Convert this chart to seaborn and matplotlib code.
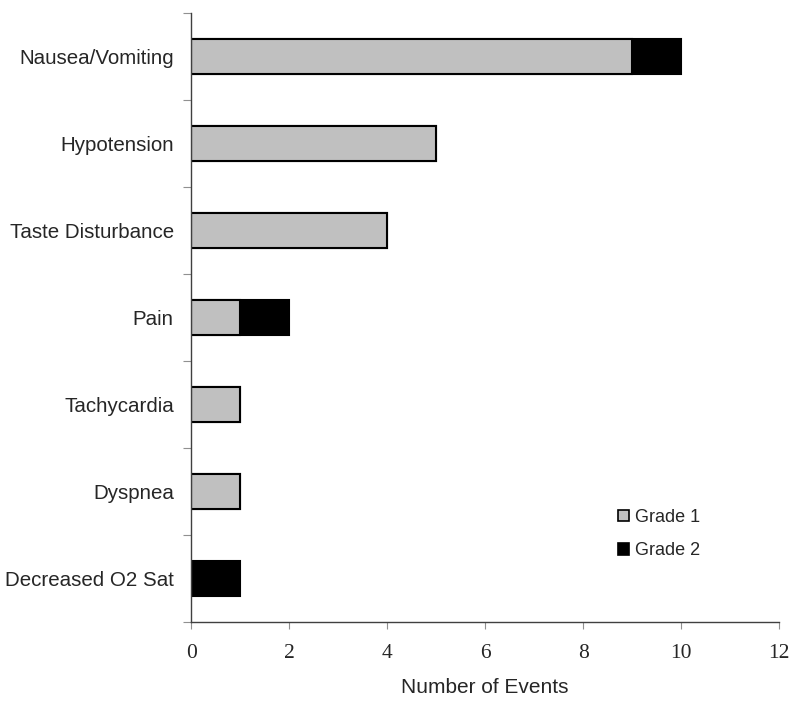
import pandas as pd
import numpy as np
import matplotlib
matplotlib.use('Agg')
import matplotlib.pyplot as plt
import seaborn as sns
from matplotlib.patches import Patch

# ─── Data ──────────────────────────────────────────────────────
events = ['Nausea/Vomiting', 'Hypotension', 'Taste Disturbance', 'Pain',
          'Tachycardia', 'Dyspnea', 'Decreased O2 Sat']
grade1 = [9, 5, 4, 1, 1, 1, 0]
grade2 = [1, 0, 0, 1, 0, 0, 1]
x_ticks = [0, 2, 4, 6, 8, 10, 12]

df = pd.DataFrame({'Event': events, 'Grade 1': grade1, 'Grade 2': grade2})
df['Total'] = df['Grade 1'] + df['Grade 2']

# ─── Plot ──────────────────────────────────────────────────────
sns.set_style('white')
plt.rcParams['font.family'] = ['Liberation Sans', 'DejaVu Sans']

fig = plt.figure(figsize=(8, 7.06), dpi=100)
ax = fig.add_axes([0.239, 0.119, 0.735, 0.8625])

# total (black) first, grade 1 (gray) drawn over it -> stacked look
sns.barplot(data=df, y='Event', x='Total', order=events, orient='h',
            color='black', saturation=1, width=0.4,
            edgecolor='black', linewidth=1.5, ax=ax)
sns.barplot(data=df[df['Grade 1'] > 0], y='Event', x='Grade 1', order=events,
            orient='h', color='#c0c0c0', saturation=1, width=0.4,
            edgecolor='black', linewidth=1.5, ax=ax)

ax.set_xlim(0, 12)
ax.set_ylim(6.5, -0.5)
ax.set_xticks(x_ticks)
ax.set_xticklabels([str(t) for t in x_ticks], family='Liberation Serif', fontsize=15.5)
ax.set_yticks(np.arange(-0.5, 7.0, 1.0))
ax.set_yticklabels([])
ax.set_yticks(np.arange(len(events)), minor=True)
ax.set_yticklabels(events, minor=True, fontsize=14.8)
ax.tick_params(axis='y', which='minor', left=False, length=0, pad=12.5)
ax.tick_params(axis='y', which='major', left=True, length=6, width=0.8,
               color='#909090', direction='out')
ax.tick_params(axis='x', bottom=True, length=5, width=0.8, color='#909090',
               direction='out', pad=10.5)

ax.set_xlabel('Number of Events', fontsize=15, labelpad=11)
ax.set_ylabel('')

for side in ['top', 'right']:
    ax.spines[side].set_visible(False)
for side in ['left', 'bottom']:
    ax.spines[side].set_color('#404040')
    ax.spines[side].set_linewidth(1.0)

handles = [Patch(facecolor='#c0c0c0', edgecolor='black', linewidth=1.2, label='Grade 1'),
           Patch(facecolor='black', edgecolor='black', linewidth=1.2, label='Grade 2')]
fig.legend(handles=handles, loc='center left', bbox_to_anchor=(0.7725, 0.2436),
           frameon=False, fontsize=13, handlelength=0.6, handleheight=0.6,
           handletextpad=0.35, labelspacing=0.9, borderpad=0, borderaxespad=0)

fig.savefig('out.png', dpi=100)
